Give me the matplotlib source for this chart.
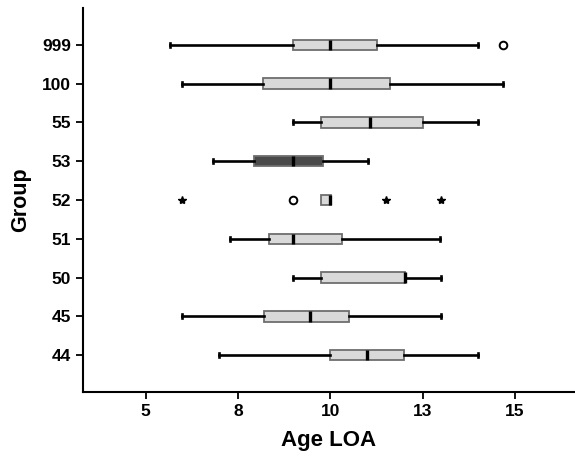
import matplotlib
matplotlib.use("Agg")
import matplotlib.pyplot as plt

plt.rcParams["font.family"] = ["Liberation Sans", "DejaVu Sans"]
plt.rcParams["font.weight"] = "bold"

# groups from bottom to top
groups = ["44", "45", "50", "51", "52", "53", "55", "100", "999"]
whislo = [6.99, 5.98, 8.98, 7.28, 9.74, 6.82, 8.98, 5.98, 5.66]
q1 = [10.0, 8.2, 9.74, 8.35, 9.74, 7.93, 9.74, 8.18, 8.98]
med = [11.0, 9.46, 12.02, 9.0, 10.0, 9.0, 11.08, 10.0, 10.0]
q3 = [12.01, 10.51, 12.03, 10.31, 10.01, 9.8, 12.5, 11.62, 11.27]
whishi = [14.01, 13.0, 13.0, 12.96, 10.01, 11.02, 14.01, 14.69, 14.01]
highlight = "53"

# outliers: (group, value)
circle_out = [("52", 9.0), ("999", 14.67)]
star_out = [("52", 5.98), ("52", 11.5), ("52", 13.0)]

x_ticks = [5, 7.5, 10, 12.5, 15]
x_ticklabels = ["5", "8", "10", "13", "15"]


def main():
    fig = plt.figure(figsize=(5.75, 4.66), dpi=100)
    ax = fig.add_axes([0.1438, 0.1588, 0.8562, 0.824])

    stats = []
    for i, g in enumerate(groups):
        stats.append(dict(label=g, whislo=whislo[i], q1=q1[i], med=med[i],
                          q3=q3[i], whishi=whishi[i], fliers=[]))
    pos = list(range(1, len(groups) + 1))

    bp = ax.bxp(stats, positions=pos, vert=False, widths=0.27,
                patch_artist=True, showfliers=False,
                boxprops=dict(edgecolor="#6e6e6e", linewidth=1.3),
                medianprops=dict(color="black", linewidth=2.4),
                whiskerprops=dict(color="black", linewidth=1.9),
                capprops=dict(color="black", linewidth=1.9),
                capwidths=0.1)
    for g, box in zip(groups, bp["boxes"]):
        box.set_facecolor("#4a4a4a" if g == highlight else "#d9d9d9")
    # no whiskers where they collapse onto the box (group 52)
    for i, g in enumerate(groups):
        if whislo[i] == q1[i] and whishi[i] == q3[i]:
            bp["whiskers"][2 * i].set_visible(False)
            bp["whiskers"][2 * i + 1].set_visible(False)
            bp["caps"][2 * i].set_visible(False)
            bp["caps"][2 * i + 1].set_visible(False)

    idx = {g: p for g, p in zip(groups, pos)}
    ax.plot([v for _, v in circle_out], [idx[g] for g, _ in circle_out],
            linestyle="none", marker="o", markersize=5.5, markerfacecolor="white",
            markeredgecolor="black", markeredgewidth=1.4)
    ax.plot([v for _, v in star_out], [idx[g] for g, _ in star_out],
            linestyle="none", marker="*", markersize=6, color="black")

    ax.set_xlim(3.29, 16.63)
    ax.set_ylim(0.05, 9.95)
    ax.set_xticks(x_ticks)
    ax.set_xticklabels(x_ticklabels)
    ax.set_yticks(pos)
    ax.set_yticklabels(groups)
    ax.tick_params(axis="both", labelsize=12.5, length=5, width=1.3, color="black")

    ax.set_xlabel("Age LOA", fontsize=16, fontweight="bold", labelpad=8)
    ax.set_ylabel("Group", fontsize=15.5, fontweight="bold", labelpad=8)

    for side in ("top", "right"):
        ax.spines[side].set_visible(False)
    for side in ("left", "bottom"):
        ax.spines[side].set_linewidth(1.5)

    fig.savefig("out.png", dpi=100)
    plt.close(fig)


if __name__ == "__main__":
    main()
